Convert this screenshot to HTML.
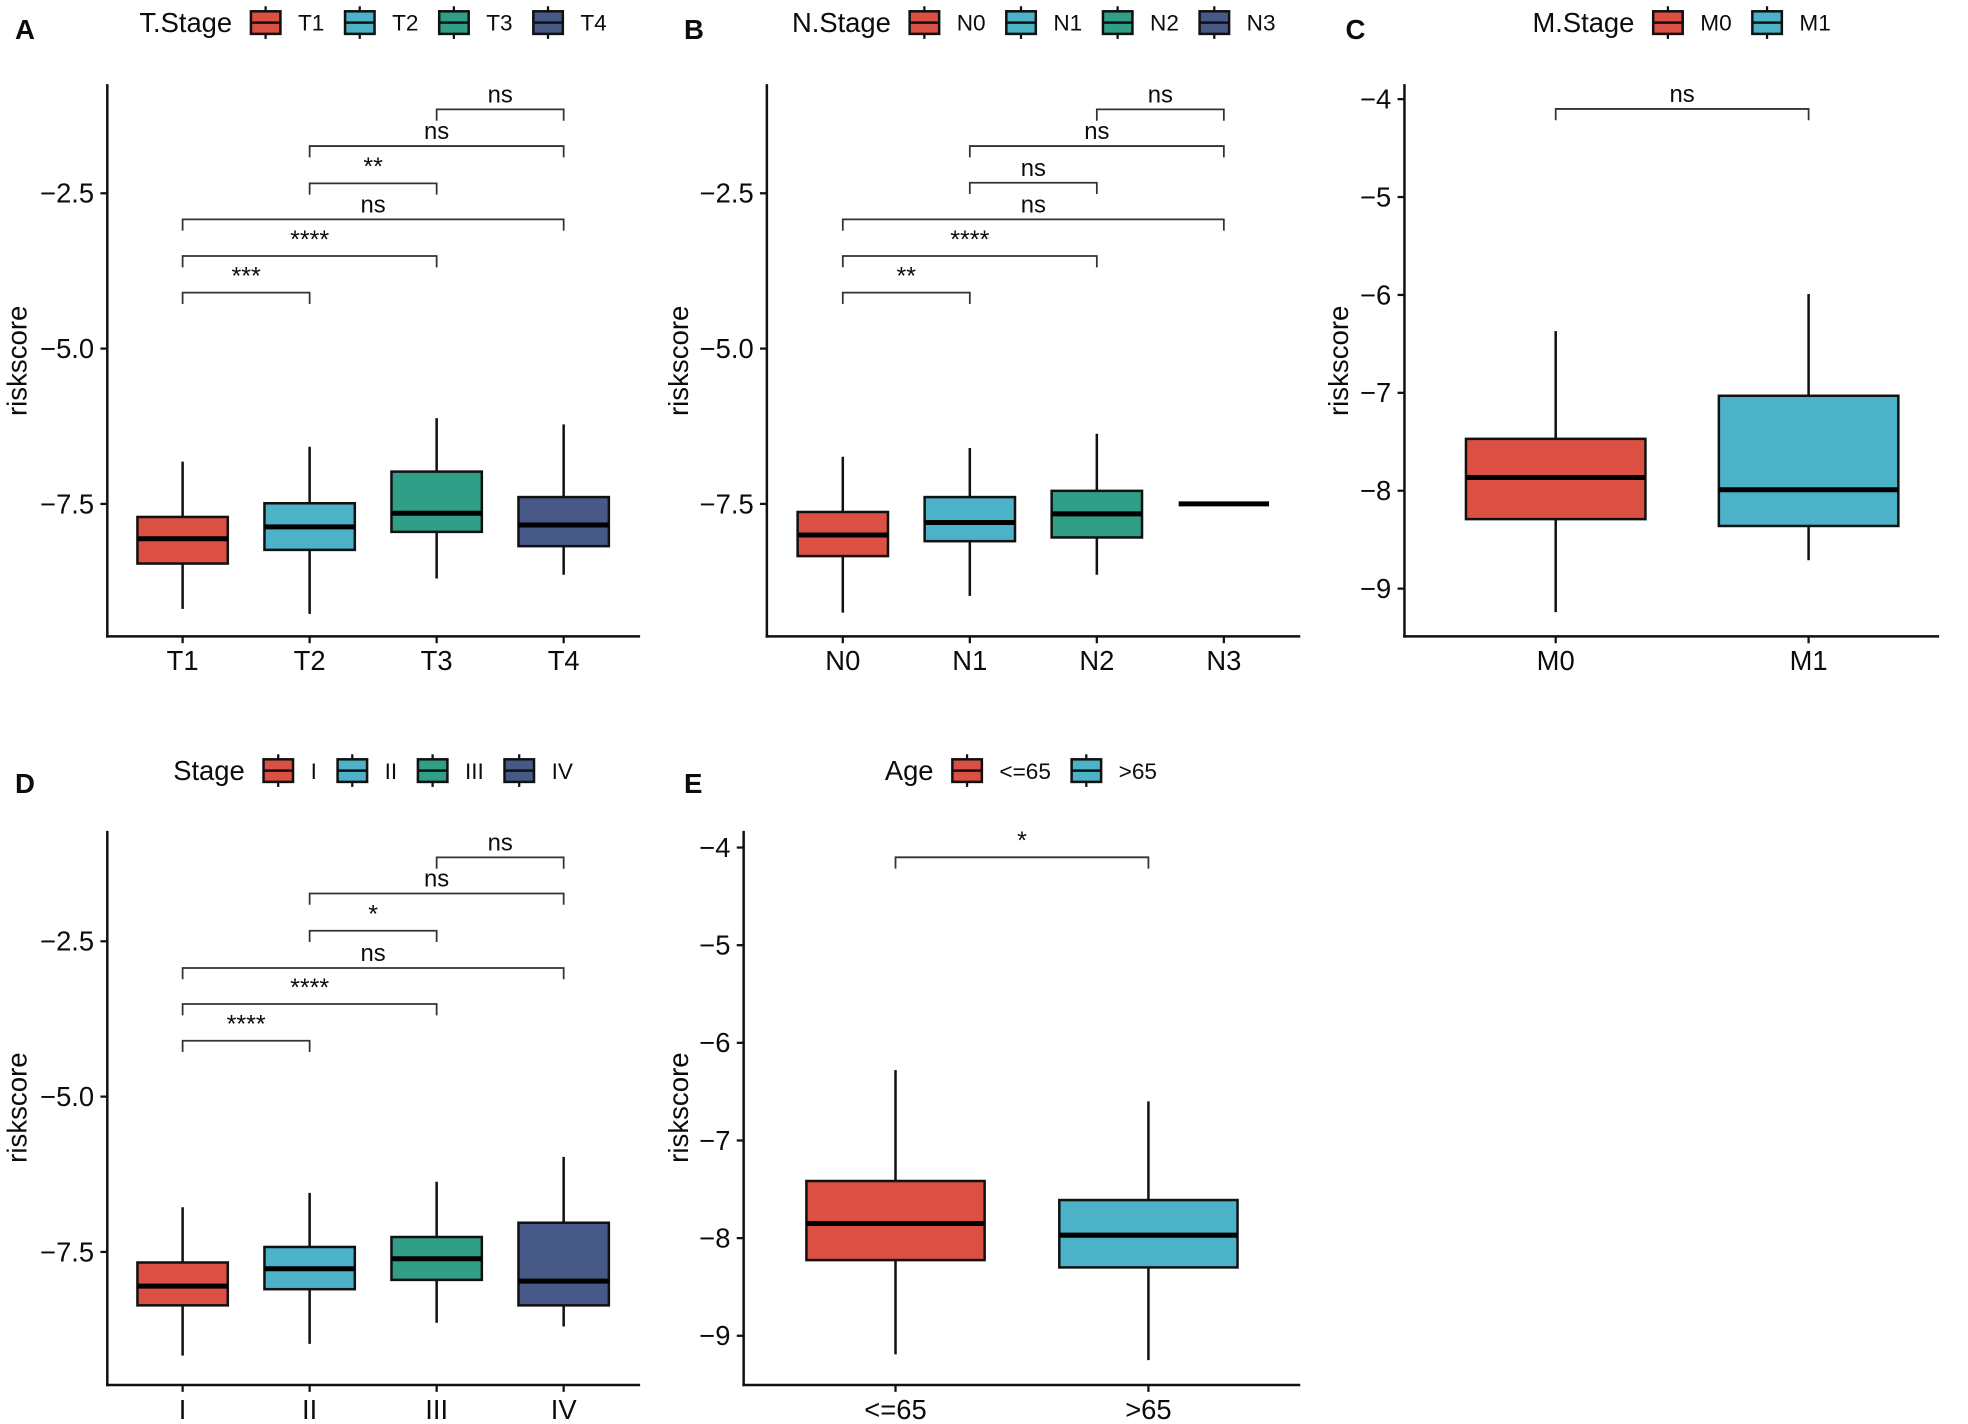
<!DOCTYPE html>
<html lang="en">
<head>
<meta charset="utf-8">
<title>Riskscore by clinical stage</title>
<style>
html,body{margin:0;padding:0;background:#fff;}
svg{display:block;}
text{font-family:"Liberation Sans",sans-serif;fill:#0c0c0c;}
</style>
</head>
<body>
<svg id="figure" xmlns="http://www.w3.org/2000/svg" width="1968" height="1424" viewBox="0 0 1568 1134.6" preserveAspectRatio="none"></svg>
<script>
// ---------- Data: panel A ----------
const tStageCategories = ['T1','T2','T3','T4'];
const tStageQ1 = [-8.46,-8.24,-7.95,-8.18];
const tStageMedian = [-8.06,-7.87,-7.65,-7.84];
const tStageQ3 = [-7.71,-7.49,-6.98,-7.39];
const tStageLow = [-9.19,-9.27,-8.70,-8.64];
const tStageHigh = [-6.82,-6.58,-6.12,-6.22];
const tStageBracketValues = [-4.10,-3.51,-2.92,-2.34,-1.74,-1.15];
const tStageBracketLabels = ['***','****','ns','**','ns','ns'];

// ---------- Data: panel B ----------
const nStageCategories = ['N0','N1','N2','N3'];
const nStageQ1 = [-8.34,-8.10,-8.04,-7.5];
const nStageMedian = [-8.00,-7.80,-7.66,-7.5];
const nStageQ3 = [-7.63,-7.39,-7.29,-7.5];
const nStageLow = [-9.25,-8.98,-8.64,-7.5];
const nStageHigh = [-6.74,-6.60,-6.37,-7.5];
const nStageBracketValues = [-4.10,-3.51,-2.92,-2.33,-1.74,-1.15];
const nStageBracketLabels = ['**','****','ns','ns','ns','ns'];

// ---------- Data: panel C ----------
const mStageCategories = ['M0','M1'];
const mStageQ1 = [-8.29,-8.36];
const mStageMedian = [-7.865,-7.99];
const mStageQ3 = [-7.47,-7.03];
const mStageLow = [-9.24,-8.71];
const mStageHigh = [-6.37,-5.99];
const mStageBracketValues = [-4.10];
const mStageBracketLabels = ['ns'];

// ---------- Data: panel D ----------
const stageCategories = ['I','II','III','IV'];
const stageQ1 = [-8.36,-8.10,-7.95,-8.36];
const stageMedian = [-8.05,-7.77,-7.61,-7.97];
const stageQ3 = [-7.67,-7.42,-7.26,-7.03];
const stageLow = [-9.17,-8.98,-8.64,-8.70];
const stageHigh = [-6.78,-6.55,-6.37,-5.97];
const stageBracketValues = [-4.10,-3.51,-2.93,-2.33,-1.73,-1.15];
const stageBracketLabels = ['****','****','ns','*','ns','ns'];

// ---------- Data: panel E ----------
const ageCategories = ['<=65','>65'];
const ageQ1 = [-8.225,-8.30];
const ageMedian = [-7.85,-7.97];
const ageQ3 = [-7.415,-7.61];
const ageLow = [-9.19,-9.25];
const ageHigh = [-6.28,-6.60];
const ageBracketValues = [-4.10];
const ageBracketLabels = ['*'];

// ---------- Shared axis ticks ----------
const wideTickValues = [-2.5,-5,-7.5];
const wideTickLabels = ['\u22122.5','\u22125.0','\u22127.5'];
const narrowTickValues = [-4,-5,-6,-7,-8,-9];
const narrowTickLabels = ['\u22124','\u22125','\u22126','\u22127','\u22128','\u22129'];
const fourGroupPairs = [[0,1],[0,2],[0,3],[1,2],[1,3],[2,3]];
const twoGroupPairs = [[0,1]];
const palette = ['#DC5044','#4CB2C8','#319F87','#465987'];

const NS = 'http://www.w3.org/2000/svg';
const figure = document.getElementById('figure');

function make(parent, tag, attrs, content) {
  const el = document.createElementNS(NS, tag);
  for (const k in attrs) el.setAttribute(k, attrs[k]);
  if (content !== undefined) el.textContent = content;
  parent.appendChild(el);
  return el;
}

function slug(s) {
  return String(s).replace('<=', 'le').replace('>', 'gt').toLowerCase();
}

function drawPanel(p) {
  const g = make(figure, 'g', {});
  
  

  const yOf = v => p.refY - (v - p.refV) * p.pxPerUnit;
  const xOf = i => p.firstX + i * p.stepX;

  // Panel letter
  const letter = make(g, 'text', {x: p.letterX, y: p.letterY, 'font-size': 22, 'font-weight': 'bold'}, p.letter);
  
  

  // Legend
  const legend = make(g, 'g', {});
  
  
  const lc = p.legendY;
  const title = make(legend, 'text', {x: p.legendX, y: lc + 7.5, 'font-size': 21.8}, p.legendTitle);
  
  
  let cursor = p.legendX + title.getComputedTextLength() + 14;
  p.categories.forEach((c, i) => {
    const key = make(legend, 'g', {});
    
    
    make(key, 'line', {x1: cursor + 12.7, x2: cursor + 12.7, y1: lc - 13, y2: lc + 13, stroke: '#111', 'stroke-width': 1.8});
    make(key, 'rect', {x: cursor + 1, y: lc - 9, width: 23.5, height: 18, fill: palette[i], stroke: '#111', 'stroke-width': 2});
    make(key, 'line', {x1: cursor + 1, x2: cursor + 24.5, y1: lc, y2: lc, stroke: '#111', 'stroke-width': 2});
    const t = make(key, 'text', {x: cursor + 38.5, y: lc + 6.5, 'font-size': 18}, c);
    cursor += 38.5 + t.getComputedTextLength() + 15.5;
  });

  // Axes
  const yAxis = make(g, 'line', {x1: p.axisX, x2: p.axisX, y1: p.top, y2: p.baseY + 1, stroke: '#111', 'stroke-width': 2});
  
  
  const xAxis = make(g, 'line', {x1: p.axisX - 1, x2: p.axisEnd, y1: p.baseY, y2: p.baseY, stroke: '#111', 'stroke-width': 2});
  
  

  p.tickValues.forEach((v, i) => {
    make(g, 'line', {x1: p.axisX - 5.5, x2: p.axisX, y1: yOf(v), y2: yOf(v), stroke: '#111', 'stroke-width': 1.8});
    const t = make(g, 'text', {x: p.axisX - 10.5, y: yOf(v) + 7.5, 'font-size': 21.8, 'text-anchor': 'end'}, p.tickLabels[i]);
    
    
  });

  const yTitle = make(g, 'text', {transform: 'translate(' + p.yTitleX + ',' + (p.top + 220.5) + ') rotate(-90)', 'font-size': 22, 'text-anchor': 'middle'}, 'riskscore');
  
  

  // Boxes
  p.categories.forEach((c, i) => {
    const x = xOf(i);
    make(g, 'line', {x1: x, x2: x, y1: p.baseY, y2: p.baseY + 5.5, stroke: '#111', 'stroke-width': 1.8});
    const lab = make(g, 'text', {x: x, y: p.baseY + 27, 'font-size': 21.8, 'text-anchor': 'middle'}, c);
    
    

    const box = make(g, 'g', {});
    
    
    make(box, 'line', {x1: x, x2: x, y1: yOf(p.high[i]), y2: yOf(p.low[i]), stroke: '#111', 'stroke-width': 2});
    make(box, 'rect', {
      x: x - p.halfWidth, y: yOf(p.q3[i]),
      width: 2 * p.halfWidth, height: yOf(p.q1[i]) - yOf(p.q3[i]),
      fill: palette[i], stroke: '#111', 'stroke-width': 2
    });
    make(box, 'line', {x1: x - p.halfWidth, x2: x + p.halfWidth, y1: yOf(p.median[i]), y2: yOf(p.median[i]), stroke: '#000', 'stroke-width': 4});
  });

  // Significance brackets
  p.pairs.forEach((pair, i) => {
    const y = yOf(p.bracketValues[i]);
    const x1 = xOf(pair[0]), x2 = xOf(pair[1]);
    const isStars = p.bracketLabels[i] !== 'ns';
    const b = make(g, 'g', {});
    
    
    make(b, 'polyline', {points: [x1, y + 9, x1, y, x2, y, x2, y + 9].join(' '), fill: 'none', stroke: '#333', 'stroke-width': 1.4});
    make(b, 'text', {x: (x1 + x2) / 2, y: y - (isStars ? 6.5 : 5.5), 'font-size': isStars ? 20 : 19, 'text-anchor': 'middle'}, p.bracketLabels[i]);
  });
}

drawPanel({
  letter: 'A', letterX: 12, letterY: 31, legendTitle: 'T.Stage', legendX: 111, legendY: 18,
  axisX: 85.5, axisEnd: 510, top: 67, baseY: 507, yTitleX: 21,
  refV: -7.5, refY: 401.5, pxPerUnit: 49.5, firstX: 145.5, stepX: 101.2, halfWidth: 36,
  tickValues: wideTickValues, tickLabels: wideTickLabels,
  categories: tStageCategories, q1: tStageQ1, median: tStageMedian, q3: tStageQ3, low: tStageLow, high: tStageHigh,
  pairs: fourGroupPairs, bracketValues: tStageBracketValues, bracketLabels: tStageBracketLabels
});
drawPanel({
  letter: 'B', letterX: 545, letterY: 31, legendTitle: 'N.Stage', legendX: 631, legendY: 18,
  axisX: 611, axisEnd: 1036, top: 67, baseY: 507, yTitleX: 548,
  refV: -7.5, refY: 401.5, pxPerUnit: 49.5, firstX: 671.5, stepX: 101.2, halfWidth: 36,
  tickValues: wideTickValues, tickLabels: wideTickLabels,
  categories: nStageCategories, q1: nStageQ1, median: nStageMedian, q3: nStageQ3, low: nStageLow, high: nStageHigh,
  pairs: fourGroupPairs, bracketValues: nStageBracketValues, bracketLabels: nStageBracketLabels
});
drawPanel({
  letter: 'C', letterX: 1072, letterY: 31, legendTitle: 'M.Stage', legendX: 1221, legendY: 18,
  axisX: 1119, axisEnd: 1545, top: 67, baseY: 507, yTitleX: 1074,
  refV: -8, refY: 391, pxPerUnit: 78, firstX: 1239.5, stepX: 201.5, halfWidth: 71.5,
  tickValues: narrowTickValues, tickLabels: narrowTickLabels,
  categories: mStageCategories, q1: mStageQ1, median: mStageMedian, q3: mStageQ3, low: mStageLow, high: mStageHigh,
  pairs: twoGroupPairs, bracketValues: mStageBracketValues, bracketLabels: mStageBracketLabels
});
drawPanel({
  letter: 'D', letterX: 12, letterY: 632, legendTitle: 'Stage', legendX: 138, legendY: 614,
  axisX: 85.5, axisEnd: 510, top: 662, baseY: 1103.5, yTitleX: 21,
  refV: -7.5, refY: 997.5, pxPerUnit: 49.5, firstX: 145.5, stepX: 101.2, halfWidth: 36,
  tickValues: wideTickValues, tickLabels: wideTickLabels,
  categories: stageCategories, q1: stageQ1, median: stageMedian, q3: stageQ3, low: stageLow, high: stageHigh,
  pairs: fourGroupPairs, bracketValues: stageBracketValues, bracketLabels: stageBracketLabels
});
drawPanel({
  letter: 'E', letterX: 545, letterY: 632, legendTitle: 'Age', legendX: 705, legendY: 614,
  axisX: 592.5, axisEnd: 1036, top: 662, baseY: 1103.5, yTitleX: 548,
  refV: -8, refY: 986.5, pxPerUnit: 77.8, firstX: 713.5, stepX: 201.5, halfWidth: 71,
  tickValues: narrowTickValues, tickLabels: narrowTickLabels,
  categories: ageCategories, q1: ageQ1, median: ageMedian, q3: ageQ3, low: ageLow, high: ageHigh,
  pairs: twoGroupPairs, bracketValues: ageBracketValues, bracketLabels: ageBracketLabels
});
</script>
</body>
</html>
